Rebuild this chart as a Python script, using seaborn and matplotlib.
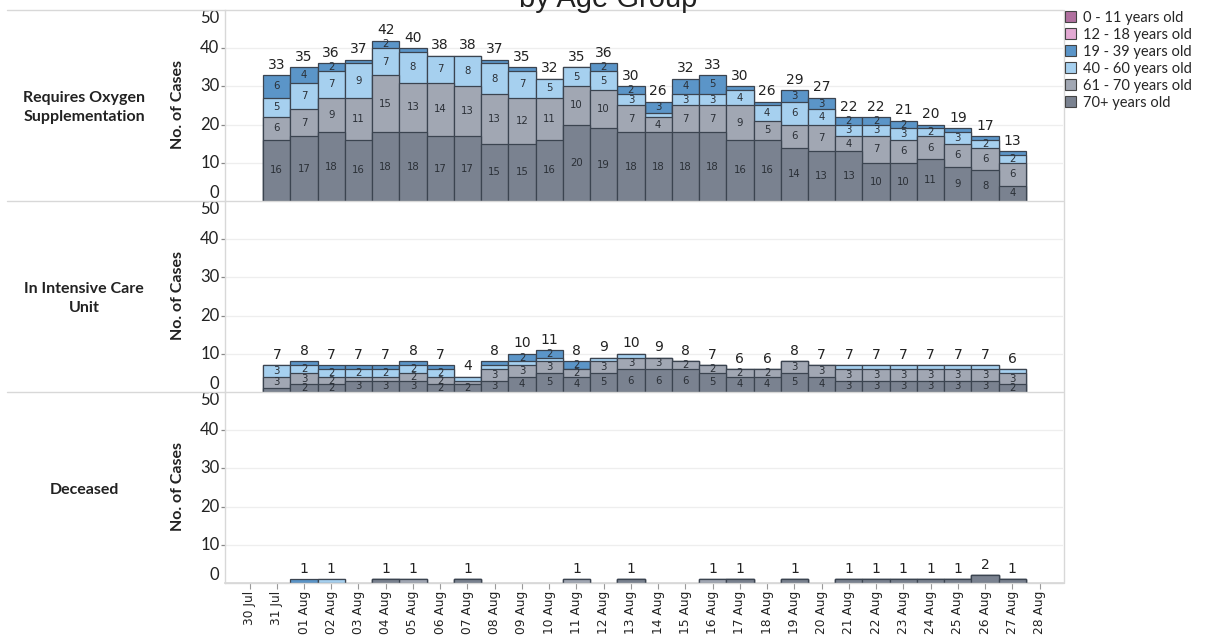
import numpy as np
import pandas as pd
import matplotlib
matplotlib.use("Agg")
import matplotlib.pyplot as plt
import matplotlib.transforms as mtransforms
import seaborn as sns
from matplotlib.patches import Patch
from matplotlib.lines import Line2D

# ---------------- data ----------------
dates = ["30 Jul", "31 Jul", "01 Aug", "02 Aug", "03 Aug", "04 Aug", "05 Aug", "06 Aug",
         "07 Aug", "08 Aug", "09 Aug", "10 Aug", "11 Aug", "12 Aug", "13 Aug", "14 Aug",
         "15 Aug", "16 Aug", "17 Aug", "18 Aug", "19 Aug", "20 Aug", "21 Aug", "22 Aug",
         "23 Aug", "24 Aug", "25 Aug", "26 Aug", "27 Aug", "28 Aug"]
bar_dates = dates[1:29]  # 31 Jul .. 27 Aug

age_groups = ["0 - 11 years old", "12 - 18 years old", "19 - 39 years old",
              "40 - 60 years old", "61 - 70 years old", "70+ years old"]

# Requires Oxygen Supplementation
oxy_70 = [16, 17, 18, 16, 18, 18, 17, 17, 15, 15, 16, 20, 19, 18, 18, 18, 18, 16, 16, 14, 13, 13, 10, 10, 11, 9, 8, 4]
oxy_61 = [6, 7, 9, 11, 15, 13, 14, 13, 13, 12, 11, 10, 10, 7, 4, 7, 7, 9, 5, 6, 7, 4, 7, 6, 6, 6, 6, 6]
oxy_40 = [5, 7, 7, 9, 7, 8, 7, 8, 8, 7, 5, 5, 5, 3, 1, 3, 3, 4, 4, 6, 4, 3, 3, 3, 2, 3, 2, 2]
oxy_19 = [6, 4, 2, 1, 2, 1, 0, 0, 1, 1, 0, 0, 2, 2, 3, 4, 5, 1, 1, 3, 3, 2, 2, 2, 1, 1, 1, 1]

# In Intensive Care Unit
icu_70 = [1, 2, 2, 3, 3, 3, 2, 2, 3, 4, 5, 4, 5, 6, 6, 6, 5, 4, 4, 5, 4, 3, 3, 3, 3, 3, 3, 2]
icu_61 = [3, 3, 2, 1, 1, 2, 2, 1, 3, 3, 3, 2, 3, 3, 3, 2, 2, 2, 2, 3, 3, 3, 3, 3, 3, 3, 3, 3]
icu_40 = [3, 2, 2, 2, 2, 2, 2, 1, 1, 1, 1, 0, 1, 1, 0, 0, 0, 0, 0, 0, 0, 1, 1, 1, 1, 1, 1, 1]
icu_19 = [0, 1, 1, 1, 1, 1, 1, 0, 1, 2, 2, 2, 0, 0, 0, 0, 0, 0, 0, 0, 0, 0, 0, 0, 0, 0, 0, 0]

# Deceased
dec_70 = [0, 0, 0, 0, 1, 0, 0, 1, 0, 0, 0, 0, 0, 1, 0, 0, 0, 1, 0, 1, 0, 1, 1, 1, 1, 1, 2, 1]
dec_61 = [0, 0, 0, 0, 0, 1, 0, 0, 0, 0, 0, 1, 0, 0, 0, 0, 1, 0, 0, 0, 0, 0, 0, 0, 0, 0, 0, 0]
dec_40 = [0, 0, 1, 0, 0, 0, 0, 0, 0, 0, 0, 0, 0, 0, 0, 0, 0, 0, 0, 0, 0, 0, 0, 0, 0, 0, 0, 0]
dec_19 = [0, 1, 0, 0, 0, 0, 0, 0, 0, 0, 0, 0, 0, 0, 0, 0, 0, 0, 0, 0, 0, 0, 0, 0, 0, 0, 0, 0]

panel_names = ["Requires Oxygen\nSupplementation", "In Intensive Care\nUnit", "Deceased"]

# ---------------- style ----------------
colors = {"0 - 11 years old": "#b0709f", "12 - 18 years old": "#e3a9d3",
          "19 - 39 years old": "#5b95c8", "40 - 60 years old": "#a6d0ef",
          "61 - 70 years old": "#a1a7b3", "70+ years old": "#7a8290"}
edge = "#3b4450"
sep_col = "#d8d8d8"
grid_col = "#eeeeee"

sns.set_theme(style="white")
plt.rcParams['font.family'] = ['Lato', 'DejaVu Sans']

W, H = 1209, 635
fig = plt.figure(figsize=(W / 100, H / 100), dpi=100)

def fx(px):
    return px / W

def fy(py):
    return 1 - py / H

left, right = 225, 1063
tops = [10, 201, 392]
bottoms = [201, 392, 583]
panels = [
    [oxy_70, oxy_61, oxy_40, oxy_19],
    [icu_70, icu_61, icu_40, icu_19],
    [dec_70, dec_61, dec_40, dec_19],
]
layer_groups = ["70+ years old", "61 - 70 years old", "40 - 60 years old", "19 - 39 years old"]

axes = []
for p, segs in enumerate(panels):
    ax = fig.add_axes([fx(left), fy(bottoms[p]), fx(right - left), (bottoms[p] - tops[p]) / H])
    axes.append(ax)
    segs = [np.array(s) for s in segs]
    cums = np.cumsum(np.vstack(segs), axis=0)
    # draw from top layer down so lower layers overlay
    for k in range(len(segs) - 1, -1, -1):
        df = pd.DataFrame({"date": bar_dates, "value": cums[k]})
        df = df[df["value"] > 0]
        if df.empty:
            continue
        sns.barplot(data=df, x="date", y="value", order=dates, color=colors[layer_groups[k]],
                    saturation=1, width=1.0, edgecolor=edge, linewidth=0.9,
                    errorbar=None, ax=ax, zorder=3)
    # labels
    for i, d in enumerate(bar_dates):
        xi = dates.index(d)
        base = 0
        for k in range(len(segs)):
            v = segs[k][i]
            if v >= 2 and p < 2:
                ax.text(xi, base + v / 2, str(v), ha="center", va="center", fontsize=7.3,
                        color="#2a2f36", family="DejaVu Sans", zorder=5)
            base += v
        if base > 0:
            ax.text(xi, base + 0.9, str(base), ha="center", va="bottom", fontsize=10,
                    color="#222222", family="DejaVu Sans", zorder=5)

    ax.set_xlim(-0.90, 29.86)
    ax.set_ylim(0, 50)
    ax.set_yticks([0, 10, 20, 30, 40, 50])
    ax.set_yticklabels(["0", "10", "20", "30", "40", "50"], fontsize=12, color="#222222")
    for lab, val in zip(ax.get_yticklabels(), [0, 10, 20, 30, 40, 50]):
        if val == 0:
            lab.set_va("bottom")
        elif val == 50:
            lab.set_va("top")
            lab.set_transform(lab.get_transform() +
                              mtransforms.ScaledTranslation(0, -3 / 72, fig.dpi_scale_trans))
        else:
            lab.set_va("center")
    ax.tick_params(axis="y", length=3, width=0.9, color="#888888", pad=1, left=True)
    yt = ax.yaxis.get_major_ticks()
    yt[0].tick1line.set_visible(False)
    yt[-1].tick1line.set_visible(False)
    for g in [10, 20, 30, 40]:
        ax.axhline(g, color=grid_col, lw=0.9, zorder=0)
    for s in ["top", "right", "bottom"]:
        ax.spines[s].set_visible(False)
    ax.spines["left"].set_color(sep_col)
    ax.spines["left"].set_linewidth(1.0)
    ax.set_ylabel("")
    ax.set_xlabel("")
    if p < 2:
        ax.set_xticks([])
    else:
        ax.set_xticks(range(len(dates)))
        ax.set_xticklabels(dates, rotation=90, fontsize=8.8, family="DejaVu Sans", color="#222222")
        ax.tick_params(axis="x", length=4, width=0.8, color="#999999", pad=1.5, bottom=True)
        ax.spines["bottom"].set_visible(True)
        ax.spines["bottom"].set_color(sep_col)
    ax.set_facecolor("none")

    # row header & axis title
    fig.text(fx(84), fy((tops[p] + bottoms[p]) / 2 + 2), panel_names[p], ha="center", va="center",
             fontsize=11.5, fontweight="bold", color="#222222", linespacing=1.5)
    fig.text(fx(178), fy((tops[p] + bottoms[p]) / 2 - 1), "No. of Cases", rotation=90,
             ha="center", va="center", fontsize=11.5, fontweight="bold", color="#222222")

# separators
for yy in [10, 201, 392, 583]:
    x0 = 7 if yy < 583 else left
    fig.add_artist(Line2D([fx(x0), fx(right)], [fy(yy), fy(yy)], color=sep_col, lw=1.0))
fig.add_artist(Line2D([fx(right + 1), fx(right + 1)], [fy(10), fy(583)], color=sep_col, lw=1.0))

# title (partly cut at top, as in the reference)
fig.text(fx(608), fy(7), "by Age Group", ha="center", va="baseline", fontsize=21,
         family="Liberation Sans", color="#222222")

# legend
handles = [Patch(facecolor=colors[g], edgecolor="#444444", linewidth=0.8) for g in age_groups]
fig.legend(handles, age_groups, loc="upper left", bbox_to_anchor=(fx(1062), fy(8)),
           frameon=False, fontsize=10.5, handlelength=0.75, handleheight=0.75,
           handletextpad=0.5, labelspacing=0.2, borderaxespad=0, borderpad=0.2)

fig.savefig("out.png", dpi=100)
